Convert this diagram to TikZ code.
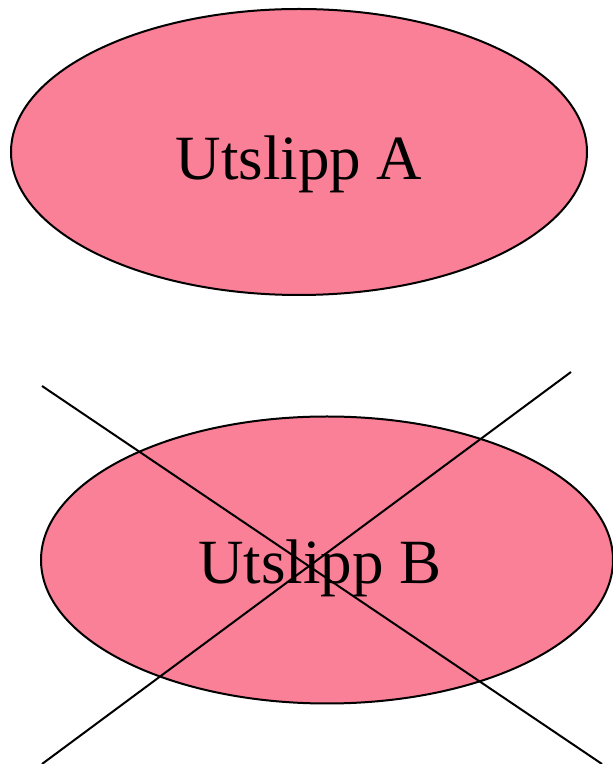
\documentclass[tikz,border=0pt]{standalone}
\usepackage{fontspec}
\setmainfont{Liberation Serif}
\definecolor{pinkfill}{RGB}{249,128,150}
\begin{document}
\begin{tikzpicture}[x=1pt,y=1pt,
  blob/.style={draw=black,line width=2pt,fill=pinkfill},
  lbl/.style={font=\fontsize{63}{70}\selectfont,inner sep=0pt,anchor=base},
  crossline/.style={draw=black,line width=2pt}]
\useasboundingbox (0,0) rectangle (613,764);
\filldraw[blob] (299,612) ellipse [x radius=288, y radius=143];
\node[lbl] (ta) at (299,584) {Utslipp A};
\filldraw[blob] (327,204) ellipse [x radius=286, y radius=143.5];
\node[lbl] (tb) at (320,180) {Utslipp B};
\coordinate (c1a) at (42,378);
\coordinate (c1b) at (602,0);
\coordinate (c2a) at (571,392);
\coordinate (c2b) at (42,0);
\draw[crossline] (c1a) -- (c1b);
\draw[crossline] (c2a) -- (c2b);
\end{tikzpicture}
\end{document}
